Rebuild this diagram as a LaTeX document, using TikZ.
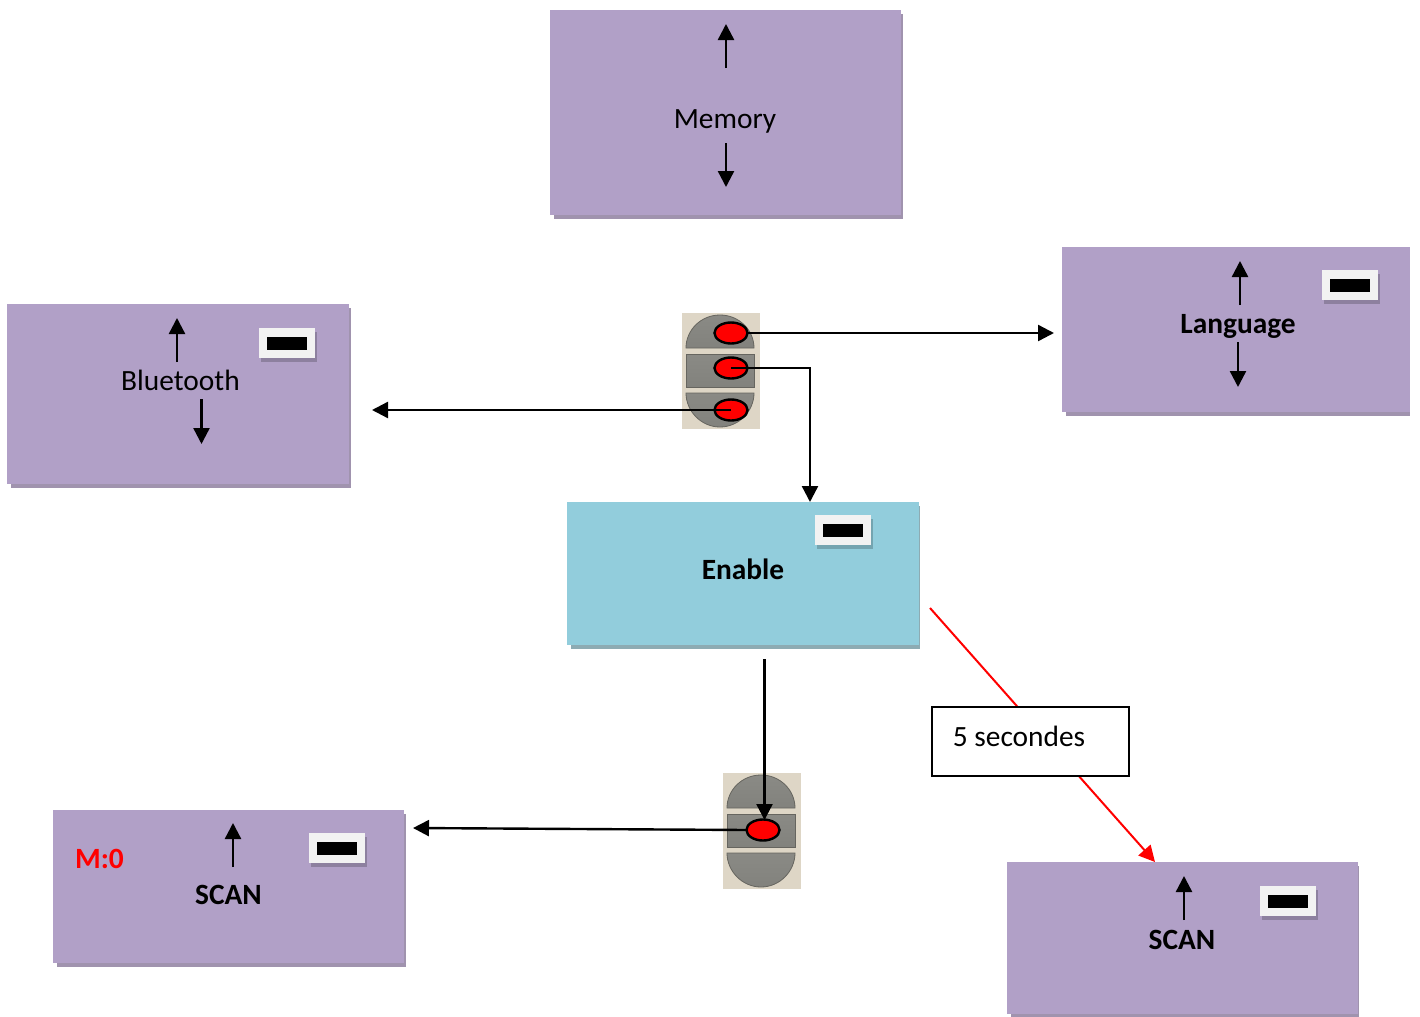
\documentclass[tikz,border=0pt]{standalone}
\usepackage{fontspec}
\setmainfont{Carlito}
\usetikzlibrary{arrows.meta,calc,shadows,shapes.geometric}
\definecolor{panelpurple}{HTML}{B1A0C7}
\definecolor{panelshadow}{HTML}{A093AE}
\definecolor{panelblue}{HTML}{92CDDC}
\definecolor{blueshadow}{HTML}{8DABB3}
\definecolor{keybg}{HTML}{DED6C6}
\definecolor{keytop}{HTML}{8A8A85}
\definecolor{keybot}{HTML}{82827D}
\definecolor{keyedge}{HTML}{66655F}
\definecolor{chipwhite}{HTML}{F2F2F2}
\tikzset{
  panelbase/.style={inner sep=0pt,outer sep=0pt,anchor=north west},
  chip/.style={panelbase,fill=chipwhite,minimum width=28pt,minimum height=15pt,drop shadow={shadow xshift=1pt,shadow yshift=-2pt,fill=black,opacity=.2}},
  chipbar/.style={inner sep=0pt,outer sep=0pt,fill=black,minimum width=20pt,minimum height=6.5pt},
  lbl/.style={font=\fontsize{14.7pt}{16pt}\selectfont,inner sep=0pt,text=black},
  blbl/.style={lbl,font=\fontsize{14.7pt}{16pt}\selectfont\bfseries},
  oval/.style={ellipse,fill=red,draw=black,line width=1.2pt,minimum width=16.5pt,minimum height=10.5pt,inner sep=0pt,outer sep=0pt},
  blackarrow/.style={draw=black,line width=1.2pt,-{Triangle[length=8pt,width=8pt]}},
  redarrow/.style={draw=red,line width=1pt,-{Triangle[length=8pt,width=8pt]}},
  keypart/.style={top color=keytop,bottom color=keybot,draw=keyedge,line width=.4pt},
}
% name, x1, y1, x2, y2, fill, shadow colour, right overhang of the shadow
\newcommand{\panelbox}[8]{%
  \fill[#7] (#2+4,#3+4) rectangle (#4+#8,#5+4);
  \node[panelbase,fill=#6,minimum width={(#4-#2)*0.5pt},minimum height={(#5-#3)*0.5pt}] (#1) at (#2,#3) {};
}
\newcommand{\keypad}{%
  \fill[keybg] (0,0) rectangle (78,116);
  \path[keypart] (4,35) .. controls (4,17) and (19,2) .. (38,2) .. controls (57,2) and (72,17) .. (72,35) -- cycle;
  \path[keypart] (4,41) rectangle (72,74);
  \path[keypart] (4,80) -- (72,80) .. controls (72,98) and (57,114) .. (38,114) .. controls (19,114) and (4,98) .. (4,80) -- cycle;
}
\newcommand{\chipat}[3]{%
  \node[chip] (#1) at (#2,#3) {};
  \node[chipbar] (#1bar) at (#1.center) {};
}
\begin{document}
\begin{tikzpicture}[x=0.5pt,y=-0.5pt]
\useasboundingbox (0,0) rectangle (1420,1017);
\clip (0,0) rectangle (1420,1017);

% panels
\panelbox{memory}{550}{10}{901}{215}{panelpurple}{panelshadow}{2}
\panelbox{language}{1062}{247}{1410}{412}{panelpurple}{panelshadow}{0}
\panelbox{bluetooth}{7}{304}{349}{484}{panelpurple}{panelshadow}{2}
\panelbox{enable}{567}{502}{919}{645}{panelblue}{blueshadow}{1}
\panelbox{scanleft}{53}{810}{404}{963}{panelpurple}{panelshadow}{2}
\panelbox{scanright}{1007}{862}{1358}{1014}{panelpurple}{panelshadow}{1}

% chips
\chipat{chipbt}{259}{328}
\chipat{chiplang}{1322}{270}
\chipat{chipen}{815}{515}
\chipat{chipsl}{309}{833}
\chipat{chipsr}{1260}{886}

% labels
\node[lbl] (tmem) at (725,121) {Memory};
\node[blbl] (tlang) at (1238,326) {Language};
\node[lbl] (tbt) at (180.5,380) {Bluetooth};
\node[blbl] (ten) at (743,569) {Enable};
\node[blbl] (tsl) at (228.5,895) {SCAN};
\node[blbl] (tsr) at (1182,940) {SCAN};
\node[blbl,text=red] (tm) at (99.5,859) {M:0};

% keypads
\begin{scope}[shift={(682,313)}]
  \keypad
\end{scope}
\begin{scope}[shift={(723,773)}]
  \keypad
\end{scope}
\node[oval] (ka) at (731,333) {};
\node[oval] (kb) at (731,368) {};
\node[oval] (kc) at (731,410) {};
\node[oval] (kd) at (763,830) {};

% free ends
\coordinate (langend) at (1054,333);
\coordinate (btend) at (372,410);
\coordinate (bend) at (810,368);
\coordinate (enin) at (810,502);
\coordinate (enout) at (764.5,659);
\coordinate (kdin) at (764.5,820);
\coordinate (sl) at (413,828);
\coordinate (redstart) at (930,608);
\coordinate (redend) at (1155,862);

% main connectors
\draw[blackarrow] (ka.east) -- (langend);
\draw[blackarrow] (kb.center) -- (bend) -- (enin);
\draw[blackarrow] (kc.center) -- (btend);
\draw[blackarrow] (enout) -- (kdin);
\draw[blackarrow] (kd.west) -- (sl);
\draw[redarrow] (redstart) -- (redend);

% time box
\node[draw=black,fill=white,line width=.8pt,minimum width=98.5pt,minimum height=34.5pt,inner sep=0pt,outer sep=0pt,anchor=north west] (five) at (932,707) {};
\node[lbl] (fivet) at (1019,736) {5 secondes};

% small arrows
\coordinate (ma1) at (726,68); \coordinate (ma2) at (726,24);
\coordinate (ma3) at (726,143); \coordinate (ma4) at (726,187);
\coordinate (la1) at (1240,305); \coordinate (la2) at (1240,261);
\coordinate (la3) at (1238,342); \coordinate (la4) at (1238,387);
\coordinate (ba1) at (177,362); \coordinate (ba2) at (177,318);
\coordinate (ba3) at (201.5,399); \coordinate (ba4) at (201.5,444);
\coordinate (sa1) at (233,867); \coordinate (sa2) at (233,823);
\coordinate (ra1) at (1184,920); \coordinate (ra2) at (1184,876);
\draw[blackarrow] (ma1) -- (ma2);
\draw[blackarrow] (ma3) -- (ma4);
\draw[blackarrow] (la1) -- (la2);
\draw[blackarrow] (la3) -- (la4);
\draw[blackarrow] (ba1) -- (ba2);
\draw[blackarrow] (ba3) -- (ba4);
\draw[blackarrow] (sa1) -- (sa2);
\draw[blackarrow] (ra1) -- (ra2);
\end{tikzpicture}
\end{document}
